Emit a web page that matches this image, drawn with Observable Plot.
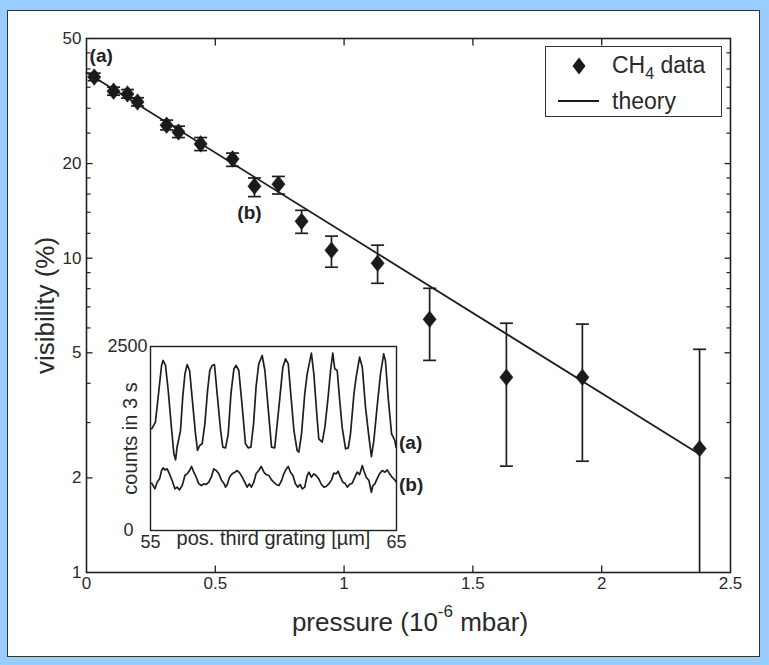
<!DOCTYPE html>
<html><head><meta charset="utf-8">
<script src="https://cdn.jsdelivr.net/npm/d3@7"></script>
<script src="https://cdn.jsdelivr.net/npm/@observablehq/plot@0.6"></script>
<style>
html,body{margin:0;padding:0;}
body{width:769px;height:665px;background:#99ccff;position:relative;overflow:hidden;font-family:"Liberation Sans",Arial,sans-serif;color:#2a2a2a;}
#panel{position:absolute;left:7px;top:10px;width:753px;height:647px;background:#fff;border:1.5px solid #333;box-sizing:border-box;}
#main{position:absolute;left:0;top:0;}
#inset{position:absolute;left:90px;top:330px;}
#xtitle{position:absolute;left:210px;width:400px;top:606px;height:32px;line-height:32px;text-align:center;font-size:26px;white-space:nowrap;}
#xtitle sup{font-size:17px;line-height:0;position:relative;top:-4px;vertical-align:super;}
#legend{position:absolute;left:545px;top:46px;width:177px;height:71px;border:1.5px solid #333;background:#fff;box-sizing:border-box;}
#legend svg{position:absolute;left:0;top:0;}
.lt{position:absolute;left:66px;font-size:23px;line-height:26px;white-space:nowrap;}
.lt sub{font-size:16px;line-height:0;vertical-align:-6px;}
</style></head><body>
<div id="panel"></div>
<div id="main"></div>
<div id="inset"></div>
<div id="xtitle">pressure (10<sup>-6</sup>&nbsp;mbar)</div>
<div id="legend">
  <svg width="177" height="71"><path d="M33,10.5L39.5,19L33,27.5L26.5,19Z" fill="#1a1a1a"/><line x1="12" y1="54" x2="53" y2="54" stroke="#1a1a1a" stroke-width="2.2"/></svg>
  <div class="lt" style="top:5px">CH<sub>4</sub> data</div>
  <div class="lt" style="top:41px">theory</div>
</div>
<script>
// ---- main chart data ----
const pressure   = [0.03, 0.105, 0.159, 0.198, 0.311, 0.357, 0.443, 0.567, 0.652, 0.745, 0.835, 0.951, 1.130, 1.332, 1.630, 1.925, 2.380];
const visibility = [37.7, 34.0, 33.3, 31.4, 26.5, 25.2, 23.1, 20.7, 16.95, 17.2, 13.1, 10.6, 9.64, 6.39, 4.18, 4.18, 2.48];
const errLow     = [36.7, 33.0, 32.3, 30.5, 25.6, 24.2, 22.0, 19.6, 15.7, 16.0, 12.0, 9.36, 8.32, 4.73, 2.18, 2.26, 0.5];
const errHigh    = [38.8, 35.0, 34.4, 32.4, 27.5, 26.3, 24.2, 21.6, 18.0, 18.2, 14.2, 11.75, 11.0, 8.02, 6.21, 6.17, 5.13];
const theoryP = [0, 2.38];
const theoryV = [39.0, 2.38];
const xTicks = [0, 0.5, 1, 1.5, 2, 2.5];
const yTicks = [1, 2, 5, 10, 20, 50];
const xInnerTicks = [0.5, 1, 1.5, 2];
const yMajorInner = [2, 5, 10, 20];
const yMinorInner = [45, 40, 35, 30, 25, 18, 16, 14, 12, 9, 8, 7, 6, 4, 3];
const yTitle = "visibility (%)";
const labelA = "(a)";   // attached to first data point
const labelB = "(b)";   // attached to ninth data point

// ---- inset data ----
const insetPosA = [55.05,55.20,55.34,55.45,55.51,55.61,55.72,55.85,55.95,56.02,56.08,56.22,56.31,56.40,56.49,56.59,56.69,56.83,56.91,57.00,57.10,57.21,57.32,57.41,57.51,57.60,57.71,57.85,57.94,58.05,58.16,58.27,58.39,58.48,58.59,58.73,58.86,58.97,59.08,59.19,59.29,59.40,59.54,59.65,59.78,59.92,60.05,60.22,60.38,60.49,60.60,60.69,60.83,60.96,61.03,61.14,61.27,61.37,61.54,61.64,61.78,61.84,61.98,62.09,62.22,62.32,62.41,62.49,62.59,62.68,62.79,62.93,63.04,63.13,63.27,63.36,63.50,63.61,63.74,63.88,63.98,64.08,64.21,64.35,64.48,64.55,64.66,64.80,64.93,64.98];
const insetCountsA = [1381,1472,1902,2242,2310,2242,1902,1404,1042,960,1132,1359,1812,2128,2255,2174,1812,1313,1087,1155,1178,1449,1902,2174,2242,2255,1857,1359,1132,1123,1313,1857,2197,2242,2174,1676,1178,1123,1132,1449,1947,2264,2378,2174,1676,1132,1123,1676,2219,2332,2264,1902,1359,1087,1064,1313,1857,2128,2409,2128,1495,1246,1200,1404,1812,2174,2409,2197,2174,1812,1404,1110,1123,1313,1857,2083,2355,2219,1676,1268,1005,1223,1676,2128,2400,2310,1812,1313,1223,1132];
const insetPosB = [55.05,55.18,55.27,55.37,55.45,55.51,55.58,55.68,55.77,55.88,55.99,56.08,56.18,56.29,56.40,56.49,56.59,56.67,56.76,56.86,56.96,57.07,57.17,57.26,57.37,57.47,57.57,57.67,57.78,57.89,57.98,58.05,58.12,58.21,58.32,58.43,58.52,58.63,58.73,58.83,58.93,59.02,59.10,59.20,59.29,59.40,59.50,59.61,59.70,59.81,59.92,60.01,60.11,60.22,60.33,60.42,60.52,60.60,60.69,60.79,60.89,60.99,61.08,61.17,61.27,61.37,61.44,61.54,61.64,61.73,61.84,61.95,62.05,62.14,62.25,62.36,62.45,62.55,62.63,62.72,62.82,62.90,63.00,63.09,63.20,63.31,63.40,63.50,63.61,63.67,63.77,63.88,63.98,64.04,64.12,64.21,64.31,64.42,64.53,64.62,64.72,64.82,64.93,64.98];
const insetCountsB = [643,566,656,702,815,851,824,837,770,679,566,589,553,611,747,770,815,870,792,724,634,611,634,625,656,724,837,815,770,679,643,589,625,724,770,792,815,779,724,656,589,634,589,656,770,815,870,792,760,747,688,656,625,611,679,770,837,870,792,747,634,589,625,566,589,747,792,724,770,747,702,625,589,598,634,688,779,770,806,724,656,643,589,625,643,724,792,760,883,815,724,679,520,611,634,702,770,815,792,824,770,724,688,660];
const insetXTicks = [55, 65];
const insetYTop = [2500];
const insetYBottom = [0];
const insetXTitle = "pos. third grating [µm]";
const insetYTitle = "counts in 3 s";
const curveLabels = ["(a)", "(b)"];

// ---- build tables ----
const points = pressure.map((p, i) => ({p, v: visibility[i], lo: errLow[i], hi: errHigh[i]}));
const theory = theoryP.map((p, i) => ({p, v: theoryV[i]}));
const curveA = insetPosA.map((x, i) => ({x, y: insetCountsA[i]}));
const curveB = insetPosB.map((x, i) => ({x, y: insetCountsB[i]}));

// ---- custom symbols ----
const diamondSym = {draw(ctx, size) {const r = Math.sqrt(size / Math.PI), w = r * 0.8;
  ctx.moveTo(0, -r); ctx.lineTo(w, 0); ctx.lineTo(0, r); ctx.lineTo(-w, 0); ctx.closePath();}};
const capSym = {draw(ctx, size) {const r = Math.sqrt(size / Math.PI); ctx.moveTo(-r, 0); ctx.lineTo(r, 0);}};
const seg = (dx, dy) => ({draw(ctx, size) {const r = Math.sqrt(size / Math.PI); ctx.moveTo(0, 0); ctx.lineTo(dx * r, dy * r);}});

const ink = "#1f1f1f";
const font = "'Liberation Sans', Arial, sans-serif";

const main = Plot.plot({
  width: 769, height: 665,
  marginLeft: 86, marginRight: 39, marginTop: 38, marginBottom: 93,
  style: {background: "transparent", fontFamily: font, color: "#2a2a2a", overflow: "visible"},
  x: {domain: [0, 2.5], label: null},
  y: {type: "log", domain: [1, 50], label: null},
  marks: [
    Plot.line(theory, {x: "p", y: "v", stroke: ink, strokeWidth: 1.8}),
    Plot.ruleX(points, {x: "p", y1: "lo", y2: "hi", stroke: ink, strokeWidth: 1.7, clip: true}),
    Plot.dot(points, {x: "p", y: "hi", symbol: capSym, r: 6.5, fill: "none", stroke: ink, strokeWidth: 1.7, clip: true}),
    Plot.dot(points, {x: "p", y: "lo", symbol: capSym, r: 6.5, fill: "none", stroke: ink, strokeWidth: 1.7, clip: true}),
    Plot.dot(points, {x: "p", y: "v", symbol: diamondSym, r: 8.3, fill: "#1a1a1a", stroke: "#1a1a1a", strokeWidth: 0.5}),
    Plot.dot(yMinorInner, {y: d => d, frameAnchor: "left", symbol: seg(1, 0), r: 4, fill: "none", stroke: ink, strokeWidth: 1.2}),
    Plot.dot(yMajorInner, {y: d => d, frameAnchor: "left", symbol: seg(1, 0), r: 6, fill: "none", stroke: ink, strokeWidth: 1.3}),
    Plot.dot(yMinorInner, {y: d => d, frameAnchor: "right", symbol: seg(-1, 0), r: 4, fill: "none", stroke: ink, strokeWidth: 1.2}),
    Plot.dot(yMajorInner, {y: d => d, frameAnchor: "right", symbol: seg(-1, 0), r: 6, fill: "none", stroke: ink, strokeWidth: 1.3}),
    Plot.dot(xInnerTicks, {x: d => d, frameAnchor: "top", symbol: seg(0, 1), r: 7, fill: "none", stroke: ink, strokeWidth: 1.3}),
    Plot.dot(xInnerTicks, {x: d => d, frameAnchor: "bottom", symbol: seg(0, -1), r: 7, fill: "none", stroke: ink, strokeWidth: 1.3}),
    Plot.frame({stroke: ink, strokeWidth: 1.6}),
    Plot.axisX({ticks: xTicks, tickSize: 0, tickPadding: 4, fontSize: 17, tickFormat: d => String(d), label: null}),
    Plot.axisY({ticks: yTicks, tickSize: 0, tickPadding: 5, fontSize: 17, tickFormat: d => String(d), label: null}),
    Plot.text([yTitle], {frameAnchor: "left", textAnchor: "middle", rotate: -90, dx: -41, fontSize: 26, fill: "#2a2a2a"}),
    Plot.text([points[0]], {x: "p", y: "v", text: () => labelA, dx: 7, dy: -21, fontSize: 19, fontWeight: "bold", fill: "#222"}),
    Plot.text([points[8]], {x: "p", y: "v", text: () => labelB, dx: -5, dy: 27, fontSize: 19, fontWeight: "bold", fill: "#222"}),
  ]
});
document.getElementById("main").append(main);

const inset = Plot.plot({
  width: 340, height: 240,
  marginLeft: 60, marginRight: 34, marginTop: 16, marginBottom: 40,
  style: {background: "transparent", fontFamily: font, color: "#2a2a2a", overflow: "visible"},
  x: {domain: [55, 65], label: null},
  y: {domain: [0, 2500], label: null},
  marks: [
    Plot.line(curveA, {x: "x", y: "y", stroke: ink, strokeWidth: 1.7}),
    Plot.line(curveB, {x: "x", y: "y", stroke: ink, strokeWidth: 1.7}),
    Plot.frame({stroke: ink, strokeWidth: 1.4}),
    Plot.axisX({ticks: insetXTicks, tickSize: 0, tickPadding: 5, fontSize: 18, label: null, tickFormat: d => String(d)}),
    Plot.axisY({ticks: insetYTop, tickSize: 0, tickPadding: 3, fontSize: 18, label: null, tickFormat: d => String(d)}),
    Plot.axisY({ticks: insetYBottom, tickSize: 0, tickPadding: 17, fontSize: 18, label: null, tickFormat: d => String(d)}),
    Plot.text([insetXTitle], {frameAnchor: "bottom", textAnchor: "middle", dy: 14, fontSize: 20, fill: "#2a2a2a"}),
    Plot.text([insetYTitle], {frameAnchor: "left", textAnchor: "middle", rotate: -90, dx: -20, fontSize: 20, fill: "#2a2a2a"}),
    Plot.text([curveA[curveA.length - 1]], {x: "x", y: "y", text: () => curveLabels[0], dx: 3, dy: -4, textAnchor: "start", fontSize: 19, fontWeight: "bold", fill: "#222"}),
    Plot.text([curveB[curveB.length - 1]], {x: "x", y: "y", text: () => curveLabels[1], dx: 3, dy: 3, textAnchor: "start", fontSize: 19, fontWeight: "bold", fill: "#222"}),
  ]
});
document.getElementById("inset").append(inset);
</script>
</body></html>
